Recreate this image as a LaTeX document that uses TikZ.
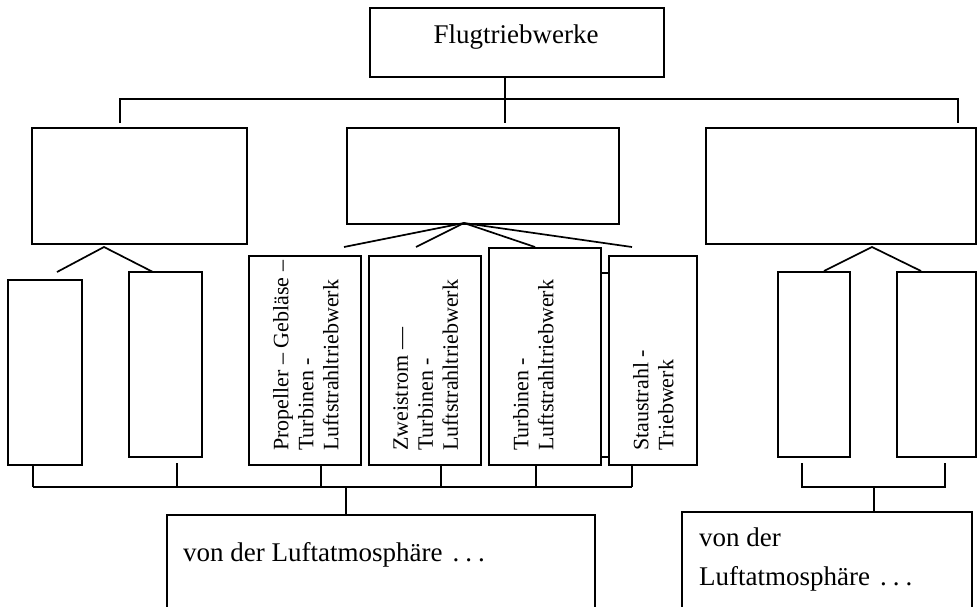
\documentclass[tikz,border=0pt]{standalone}
\usepackage{fontspec}
\setmainfont{Liberation Serif}
\newcommand\mydots{\hspace{10pt}.\hspace{6pt}.\hspace{6pt}.}
\begin{document}
\begin{tikzpicture}[x=1pt,y=-1pt,
  box/.style={draw, line width=1.8pt, fill=white, inner sep=0pt, anchor=north west},
  conn/.style={line width=1.7pt},
  thin conn/.style={line width=1.3pt},
  vtext/.style={rotate=90, anchor=north west, align=left, inner sep=0pt, font=\fontsize{22}{25}\selectfont},
  htext/.style={inner sep=0pt, font=\fontsize{27}{39}\selectfont}]
\clip (0,0) rectangle (979,606);
% boxes
\node[box, minimum width=294pt, minimum height=69pt] (top) at (369,7) {};
\node[box, minimum width=215pt, minimum height=116pt] (A) at (31,127) {};
\node[box, minimum width=272pt, minimum height=96pt] (B) at (346,127) {};
\node[box, minimum width=270pt, minimum height=116pt] (C) at (705,127) {};
\node[box, minimum width=74pt, minimum height=185pt] (L1) at (7,279) {};
\node[box, minimum width=73pt, minimum height=185pt] (L2) at (128,271) {};
\node[box, minimum width=112pt, minimum height=209pt] (P) at (248,255) {};
\node[box, minimum width=112pt, minimum height=209pt] (Z) at (368,255) {};
\node[box, minimum width=28pt, minimum height=184pt] (G) at (580,272) {};
\node[box, minimum width=112pt, minimum height=217pt] (T) at (488,247) {};
\node[box, minimum width=88pt, minimum height=209pt] (S) at (608,255) {};
\node[box, minimum width=72pt, minimum height=185pt] (R1) at (777,271) {};
\node[box, minimum width=79pt, minimum height=185pt] (R2) at (896,271) {};
\node[box, minimum width=428pt, minimum height=110pt] (D) at (166,514) {};
\node[box, minimum width=290pt, minimum height=110pt] (E) at (681,511) {};
% texts
\node[htext] (tt) at (516,37) {Flugtriebwerke};
\node[vtext] (pt) at (273,451) {Propeller – Gebläse –\\Turbinen -\\Luftstrahltriebwerk};
\node[vtext] (zt) at (393,451) {Zweistrom —\\Turbinen -\\Luftstrahltriebwerk};
\node[vtext] (ttx) at (513,451) {Turbinen -\\Luftstrahltriebwerk};
\node[vtext] (st) at (633,451) {Staustrahl -\\Triebwerk};
\node[htext, anchor=west] (dt) at (183,555) {von der Luftatmosphäre\mydots};
\node[htext, anchor=north west, align=left] (et) at (699,528) {von der\\Luftatmosphäre\mydots};
% top bus
\coordinate (m0) at (505,99); \coordinate (m1) at (505,123);
\coordinate (l0) at (120,99); \coordinate (l1) at (120,123);
\coordinate (r0) at (958,99); \coordinate (r1) at (958,123);
\draw[conn] (top.south -| m0) -- (m1);
\draw[conn] (l1) -- (l0) -- (r0) -- (r1);
% left triangle
\coordinate (ta) at (104,247); \coordinate (ta1) at (57,272); \coordinate (ta2) at (153,272);
\draw[conn] (ta1) -- (ta) -- (ta2);
% fan
\coordinate (fb) at (464,223);
\coordinate (f1) at (344,247); \coordinate (f2) at (416,247);
\coordinate (f3) at (535,247); \coordinate (f4) at (632,247);
\draw[conn] (fb) -- (f1); \draw[conn] (fb) -- (f2);
\draw[conn] (fb) -- (f3); \draw[conn] (fb) -- (f4);
% right triangle
\coordinate (tc) at (872,247); \coordinate (tc1) at (824,271); \coordinate (tc2) at (921,271);
\draw[conn] (tc1) -- (tc) -- (tc2);
% bottom left bus
\coordinate (b1) at (33,487); \coordinate (b2) at (177,487); \coordinate (b3) at (321,487);
\coordinate (b4) at (441,487); \coordinate (b5) at (536,487); \coordinate (b6) at (632,487);
\coordinate (bm) at (346,487);
\coordinate (u2) at (177,463);
\draw[thin conn] (L1.south -| b1) -- (b1);
\draw[thin conn] (u2) -- (b2);
\draw[thin conn] (P.south -| b3) -- (b3);
\draw[thin conn] (Z.south -| b4) -- (b4);
\draw[thin conn] (T.south -| b5) -- (b5);
\draw[thin conn] (S.south -| b6) -- (b6);
\draw[thin conn] (b1) -- (b6);
\draw[thin conn] (bm) -- (D.north -| bm);
% bottom right bus
\coordinate (c1) at (802,487); \coordinate (c2) at (945,487); \coordinate (cm) at (874,487);
\coordinate (v1) at (802,463); \coordinate (v2) at (945,463);
\draw[thin conn] (v1) -- (c1) -- (c2) -- (v2);
\draw[thin conn] (cm) -- (E.north -| cm);
\end{tikzpicture}
\end{document}
